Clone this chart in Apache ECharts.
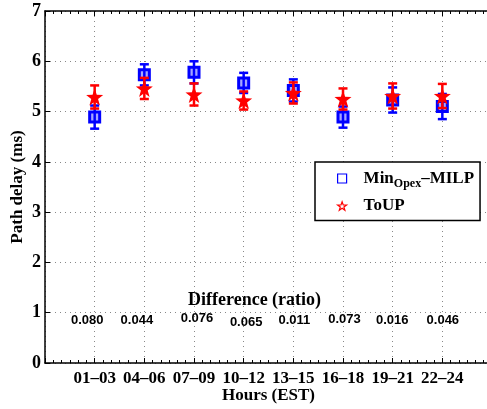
<!DOCTYPE html>
<html>
<head>
<meta charset="utf-8">
<script src="https://cdn.jsdelivr.net/npm/echarts@6/dist/echarts.min.js"></script>
<style>
html, body { margin: 0; padding: 0; background: #fff; }
#main { width: 487px; height: 409px; }
</style>
</head>
<body>
<div id="main"></div>
<script>
var categories = ['01\u201303', '04\u201306', '07\u201309', '10\u201312', '13\u201315', '16\u201318', '19\u201321', '22\u201324'];
var minOpexMean = [4.89, 5.73, 5.78, 5.57, 5.42, 4.89, 5.23, 5.10];
var minOpexErr = [0.23, 0.21, 0.22, 0.20, 0.22, 0.21, 0.25, 0.25];
var toupMean = [5.29, 5.46, 5.34, 5.22, 5.37, 5.25, 5.31, 5.31];
var toupErr = [0.23, 0.21, 0.22, 0.18, 0.21, 0.21, 0.25, 0.24];
var diffRatio = ['0.080', '0.044', '0.076', '0.065', '0.011', '0.073', '0.016', '0.046'];
var diffX = [0.85, 1.85, 3.06, 4.05, 5.02, 6.03, 6.99, 8.01];
var diffY = [0.85, 0.85, 0.89, 0.81, 0.84, 0.87, 0.84, 0.85];

var starPath = 'path://M0,-10L2.35,-3.24L9.51,-3.09L3.8,1.24L5.88,8.09L0,4L-5.88,8.09L-3.8,1.24L-9.51,-3.09L-2.35,-3.24Z';
var serif = '"Liberation Serif", "DejaVu Serif", serif';

var myChart = echarts.init(document.getElementById('main'));

function errData(mean, err) {
    var out = [];
    for (var i = 0; i < mean.length; i++) {
        out.push([i + 1, mean[i] - err[i], mean[i] + err[i]]);
    }
    return out;
}

function pointData(mean) {
    var out = [];
    for (var i = 0; i < mean.length; i++) {
        out.push([i + 1, mean[i]]);
    }
    return out;
}

function errBar(color) {
    return function (params, api) {
        var lo = api.coord([api.value(0), api.value(1)]);
        var hi = api.coord([api.value(0), api.value(2)]);
        var w = 4.5;
        var style = { stroke: color, lineWidth: 2.5 };
        return {
            type: 'group',
            children: [
                { type: 'line', shape: { x1: lo[0], y1: lo[1], x2: hi[0], y2: hi[1] }, style: style },
                { type: 'line', shape: { x1: lo[0] - w, y1: lo[1], x2: lo[0] + w, y2: lo[1] }, style: style },
                { type: 'line', shape: { x1: hi[0] - w, y1: hi[1], x2: hi[0] + w, y2: hi[1] }, style: style }
            ]
        };
    };
}

var diffData = [];
for (var i = 0; i < diffRatio.length; i++) {
    diffData.push({ value: [diffX[i], diffY[i]], label: { formatter: diffRatio[i] } });
}

var gridLine = { show: true, lineStyle: { color: '#888', type: [1, 4], width: 1 } };

var option = {
    animation: false,
    grid: { left: 45, top: 11, bottom: 46, right: -5, outerBoundsMode: 'none', containLabel: false },
    legend: {
        orient: 'vertical',
        left: 315,
        top: 162,
        padding: [8, 6, 6, 22],
        itemGap: 8,
        itemWidth: 9,
        itemHeight: 9,
        borderColor: '#000',
        borderWidth: 1.5,
        borderRadius: 0,
        backgroundColor: '#fff',
        textStyle: {
            fontFamily: serif,
            fontWeight: 'bold',
            fontSize: 17,
            color: '#000',
            padding: [0, 0, 0, 12],
            rich: {
                sub: { fontFamily: serif, fontWeight: 'bold', fontSize: 12, color: '#000', verticalAlign: 'bottom', padding: [10, 0, 0, 0] }
            }
        },
        formatter: function (name) {
            if (name === 'MinOpex') return 'Min{sub|Opex}\u2013MILP';
            return name;
        },
        data: [
            { name: 'MinOpex', icon: 'rect', itemStyle: { color: '#fff', borderColor: '#0000ff', borderWidth: 1.2 } },
            { name: 'ToUP', icon: starPath, itemStyle: { color: '#fff', borderColor: '#ff0000', borderWidth: 1.2 } }
        ]
    },
    xAxis: [{
        type: 'value',
        min: 0,
        max: 9,
        interval: 1,
        name: 'Hours (EST)',
        nameLocation: 'middle',
        nameGap: 24,
        nameMoveOverlap: false,
        nameTextStyle: { fontFamily: serif, fontWeight: 'bold', fontSize: 17, color: '#000' },
        axisLine: { lineStyle: { color: '#000', width: 1.5 } },
        axisTick: { inside: true, length: 5, lineStyle: { color: '#000' } },
        minorTick: { show: true, splitNumber: 6, length: 3, lineStyle: { color: '#000' } },
        axisLabel: {
            fontFamily: serif, fontWeight: 'bold', fontSize: 17, color: '#000', margin: 7,
            formatter: function (v) { return categories[v - 1] || ''; }
        },
        splitLine: gridLine
    }, {
        type: 'value',
        position: 'top',
        min: 0,
        max: 9,
        interval: 1,
        axisLine: { show: true, onZero: false, lineStyle: { color: '#000', width: 1.5 } },
        axisTick: { inside: true, length: 5, lineStyle: { color: '#000' } },
        minorTick: { show: true, splitNumber: 6, length: 3, lineStyle: { color: '#000' } },
        axisLabel: { show: false },
        splitLine: { show: false }
    }],
    yAxis: {
        type: 'value',
        min: 0,
        max: 7,
        interval: 1,
        name: 'Path delay (ms)',
        nameLocation: 'middle',
        nameGap: 19,
        nameMoveOverlap: false,
        nameTextStyle: { fontFamily: serif, fontWeight: 'bold', fontSize: 17, color: '#000' },
        axisLine: { show: true, lineStyle: { color: '#000', width: 1.5 } },
        axisTick: { show: true, inside: true, length: 5, lineStyle: { color: '#000' } },
        axisLabel: { fontFamily: serif, fontWeight: 'bold', fontSize: 18, color: '#000', margin: 4 },
        splitLine: gridLine
    },
    graphic: [{
        type: 'text',
        left: 188,
        top: 291,
        style: { text: 'Difference (ratio)', font: 'bold 18px "Liberation Serif", serif', fill: '#000' }
    }],
    series: [{
        name: 'MinOpexErr',
        type: 'custom',
        renderItem: errBar('#0000ff'),
        data: errData(minOpexMean, minOpexErr),
        z: 2
    }, {
        name: 'MinOpex',
        type: 'scatter',
        symbol: 'rect',
        symbolSize: 10,
        itemStyle: { color: 'rgba(0,0,255,0.35)', borderColor: '#0000ff', borderWidth: 3, opacity: 1 },
        data: pointData(minOpexMean),
        z: 3
    }, {
        name: 'ToUPErr',
        type: 'custom',
        renderItem: errBar('#ff0000'),
        data: errData(toupMean, toupErr),
        z: 4
    }, {
        name: 'ToUP',
        type: 'scatter',
        symbol: starPath,
        symbolSize: 17,
        itemStyle: { color: '#ff0000', opacity: 1 },
        data: pointData(toupMean),
        z: 5
    }, {
        name: 'diff',
        type: 'scatter',
        symbolSize: 1,
        silent: true,
        itemStyle: { opacity: 0 },
        label: {
            show: true,
            position: 'inside',
            fontFamily: '"Liberation Sans", Arial, sans-serif',
            fontWeight: 'bold',
            fontSize: 13,
            color: '#000',
            opacity: 1
        },
        data: diffData
    }]
};

myChart.setOption(option);

window.addEventListener('resize', function () {
    myChart.resize();
});
</script>
</body>
</html>
